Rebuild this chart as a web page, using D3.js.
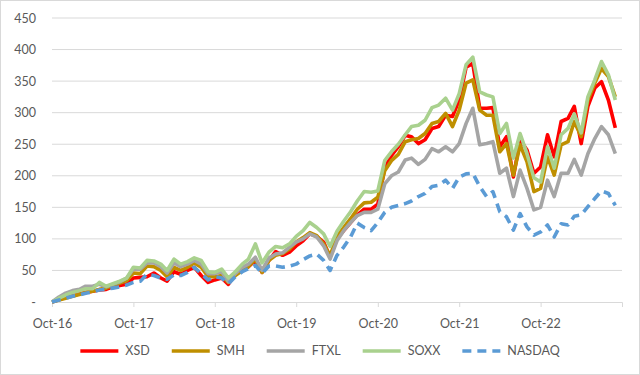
<!DOCTYPE html>
<html>
<head>
<meta charset="utf-8">
<script src="https://cdn.jsdelivr.net/npm/d3@7"></script>
<style>
  html, body { margin: 0; padding: 0; background: #fff; }
  svg text { font-family: "Lato", "Open Sans", sans-serif; fill: #595959; }
</style>
</head>
<body>
<div id="plot"></div>
<script>
// monthly points, Oct-16 .. Sep-23
var months = d3.utcMonth.range(new Date(Date.UTC(2016, 9, 1)), new Date(Date.UTC(2023, 9, 2)));
var tickLabels = ["Oct-16", "Oct-17", "Oct-18", "Oct-19", "Oct-20", "Oct-21", "Oct-22"];
var yTicks = [0, 50, 100, 150, 200, 250, 300, 350, 400, 450];

var seriesNames = ["XSD", "SMH", "FTXL", "SOXX", "NASDAQ"];

var xsd = [0, 4, 7, 10, 13, 15, 17, 19, 20, 24, 26, 28,
  38, 39, 40, 46, 38, 33, 48, 44, 50, 55, 42, 31,
  35, 38, 28, 44, 50, 56, 66, 47, 66, 80, 74, 79,
  89, 97, 108, 104, 95, 71, 100, 113, 126, 138, 147, 147,
  155, 212, 232, 246, 264, 262, 251, 257, 275, 278, 296, 294,
  320, 372, 378, 307, 307, 308, 246, 262, 198, 257, 241, 204,
  214, 265, 230, 286, 291, 310, 251, 310, 339, 349, 320, 276];

var smh = [0, 3, 6, 9, 12, 15, 17, 20, 22, 26, 30, 34,
  46, 45, 57, 56, 50, 40, 55, 50, 55, 62, 55, 40,
  40, 42, 31, 42, 50, 56, 68, 47, 66, 74, 77, 84,
  95, 102, 110, 105, 92, 73, 104, 118, 132, 147, 157, 158,
  166, 208, 224, 234, 254, 257, 259, 267, 283, 286, 299, 278,
  304, 347, 352, 304, 296, 296, 238, 251, 201, 249, 222, 175,
  180, 230, 201, 249, 254, 286, 262, 320, 347, 370, 357, 325];

var ftxl = [0, 8, 14, 18, 20, 25, 25, 28, 24, 28, 32, 38,
  52, 52, 62, 62, 56, 46, 62, 56, 60, 66, 60, 45,
  45, 48, 32, 45, 55, 60, 71, 50, 70, 76, 78, 87,
  95, 100, 108, 103, 89, 68, 97, 113, 126, 137, 142, 142,
  147, 187, 200, 206, 225, 228, 218, 226, 243, 238, 246, 238,
  251, 283, 307, 249, 251, 254, 204, 212, 167, 209, 180, 146,
  150, 193, 167, 204, 204, 226, 201, 235, 259, 278, 265, 235];

var soxx = [0, 6, 11, 15, 18, 21, 21, 31, 25, 29, 33, 38,
  55, 54, 66, 65, 60, 50, 68, 60, 64, 70, 66, 48,
  47, 52, 38, 48, 60, 68, 92, 62, 79, 88, 86, 92,
  104, 113, 126, 118, 108, 88, 112, 128, 143, 160, 175, 174,
  176, 224, 238, 250, 265, 278, 280, 288, 308, 312, 323, 304,
  330, 376, 388, 333, 328, 325, 267, 283, 228, 267, 235, 197,
  190, 246, 212, 265, 275, 298, 268, 325, 352, 381, 360, 320];

var nasdaq = [0, 3, 6, 9, 11, 14, 16, 19, 20, 22, 24, 27,
  31, 33, 44, 42, 38, 36, 43, 42, 47, 55, 45, 35,
  40, 38, 29, 40, 48, 53, 58, 45, 57, 57, 55, 57,
  60, 67, 73, 76, 66, 50, 74, 87, 103, 125, 118, 113,
  126, 142, 150, 153, 156, 160, 167, 172, 183, 185, 193, 180,
  198, 203, 204, 183, 167, 175, 143, 135, 114, 140, 119, 106,
  111, 122, 103, 124, 122, 136, 138, 151, 164, 176, 172, 153];

var colors = ["#ff0000", "#bf8f00", "#a5a5a5", "#a9d18e", "#5b9bd5"];
var dashes = [null, null, null, null, "9,6"];

var data = [xsd, smh, ftxl, soxx, nasdaq];

var width = 640, height = 375;
var margin = {top: 18, right: 18, bottom: 73, left: 52};

var svg = d3.select("#plot").append("svg")
  .attr("width", width)
  .attr("height", height);

svg.append("rect")
  .attr("x", 0.5).attr("y", 0.5)
  .attr("width", width - 1).attr("height", height - 1)
  .attr("fill", "#fff").attr("stroke", "#d9d9d9");

var x = d3.scaleUtc()
  .domain([months[0], months[months.length - 1]])
  .range([margin.left, width - margin.right]);

var y = d3.scaleLinear()
  .domain([0, 450])
  .range([height - margin.bottom, margin.top]);

var parseTick = d3.utcParse("%b-%y");
var tickDates = tickLabels.map(parseTick);

// gridlines
svg.append("g")
  .selectAll("line")
  .data(yTicks.slice(1))
  .enter().append("line")
    .attr("x1", x.range()[0]).attr("x2", x.range()[1])
    .attr("y1", d => y(d)).attr("y2", d => y(d))
    .attr("stroke", "#d9d9d9").attr("stroke-width", 1);

// y axis
var yAxis = svg.append("g")
  .attr("transform", "translate(" + (margin.left - 16) + ",0)")
  .call(d3.axisLeft(y).tickValues(yTicks).tickSize(0).tickPadding(0)
    .tickFormat(d => d === 0 ? "-" : d));
yAxis.select(".domain").remove();
yAxis.selectAll("text").style("font-size", "12.5px").attr("fill", "#595959");

// x axis
var xAxis = svg.append("g")
  .attr("transform", "translate(0," + y(0) + ")")
  .call(d3.axisBottom(x).tickValues(tickDates).tickSize(5).tickPadding(12)
    .tickFormat((d, i) => tickLabels[i]));
xAxis.select(".domain").attr("stroke", "#d9d9d9");
xAxis.selectAll(".tick line").attr("stroke", "#d9d9d9");
xAxis.selectAll("text").style("font-size", "12.5px").attr("fill", "#595959");

// lines
var line = d3.line()
  .x((d, i) => x(months[i]))
  .y(d => y(d));

svg.append("g")
  .selectAll("path")
  .data(data)
  .enter().append("path")
    .attr("d", d => line(d))
    .attr("fill", "none")
    .attr("stroke", (d, i) => colors[i])
    .attr("stroke-width", 3.6)
    .attr("stroke-linejoin", "round")
    .attr("stroke-dasharray", (d, i) => dashes[i]);

// legend
var legend = svg.append("g").attr("transform", "translate(0,351)");
var items = legend.selectAll("g")
  .data(seriesNames)
  .enter().append("g");
items.append("line")
  .attr("x1", 0).attr("x2", 38)
  .attr("stroke", (d, i) => colors[i])
  .attr("stroke-width", 3.6)
  .attr("stroke-dasharray", (d, i) => dashes[i]);
items.append("text")
  .attr("x", 45).attr("dy", "0.35em")
  .style("font-size", "12.5px")
  .text(d => d);

var pos = 0, offsets = [];
items.each(function () {
  offsets.push(pos);
  pos += 45 + d3.select(this).select("text").node().getComputedTextLength() + 22;
});
var total = pos - 22;
var start = (width - total) / 2;
items.attr("transform", (d, i) => "translate(" + (start + offsets[i]) + ",0)");
</script>
</body>
</html>
